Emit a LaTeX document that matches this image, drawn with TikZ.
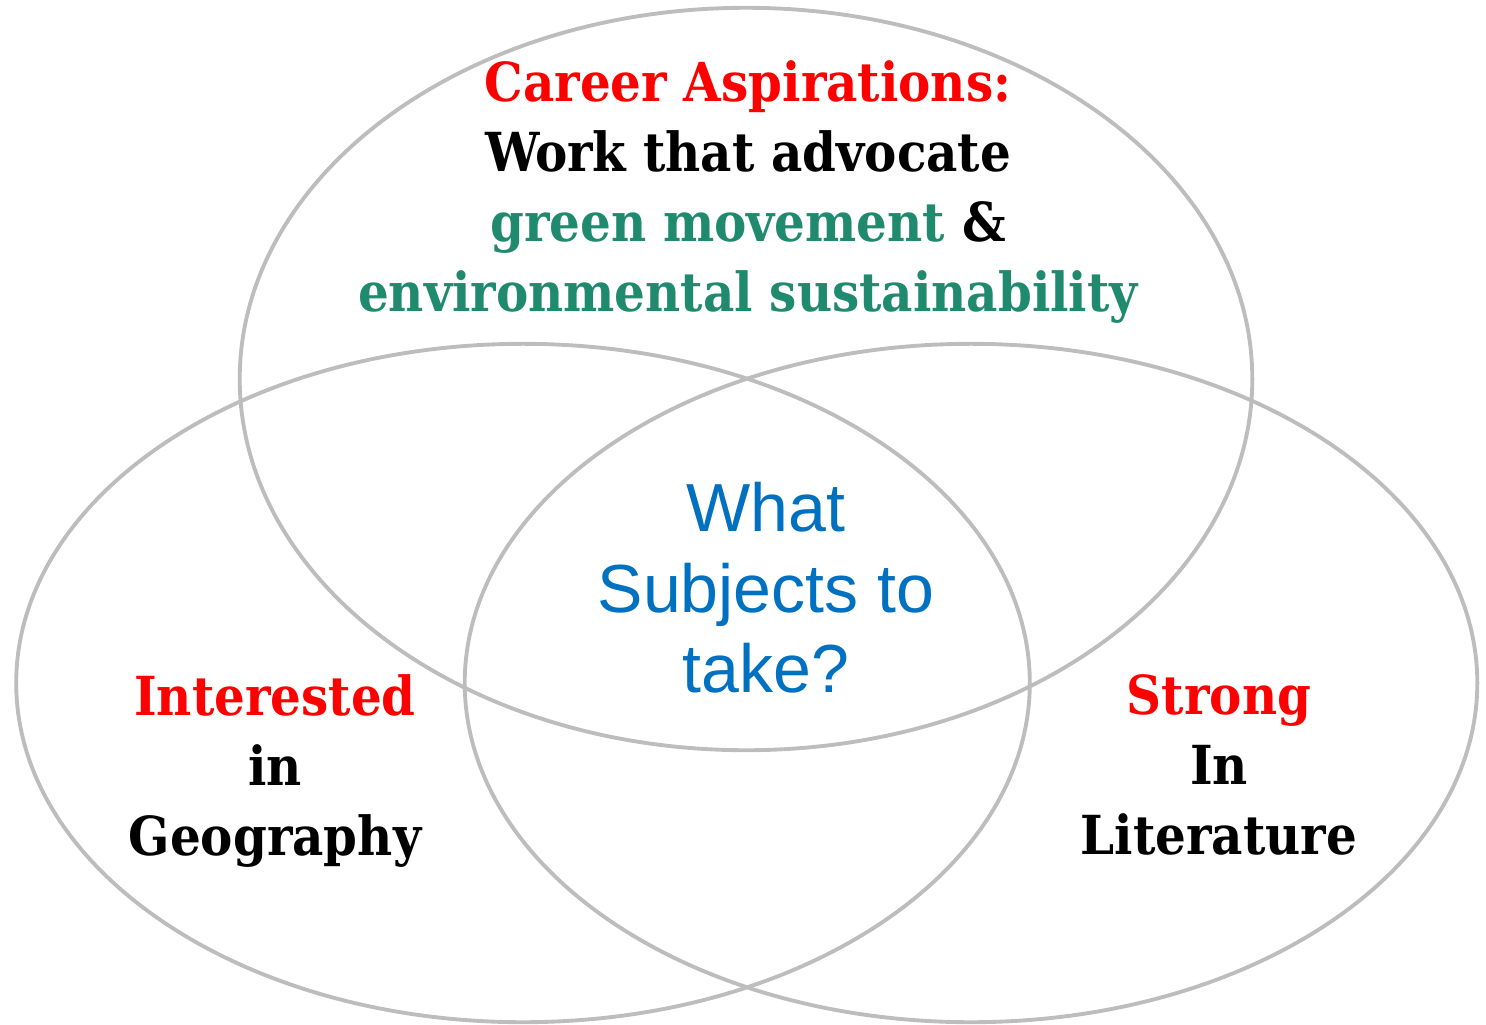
\documentclass[tikz,border=0pt]{standalone}
\usepackage{fontspec}
\setmainfont{DejaVu Serif Condensed}
\setsansfont{Liberation Sans}
\usepackage{tikz}
\usetikzlibrary{positioning}
\definecolor{ringgray}{HTML}{BDBDBD}
\definecolor{careerred}{HTML}{FF0000}
\definecolor{greenword}{HTML}{1F8A6E}
\definecolor{askblue}{HTML}{0070C0}
\tikzstyle{ring}      = [draw=ringgray, line width=1.1pt]
\tikzstyle{wordbold}  = [align=center, inner sep=0pt, font=\bfseries\fontsize{15.3}{19.9}\selectfont]
\tikzstyle{wordask}   = [align=center, inner sep=0pt, text=askblue, font=\sffamily\fontsize{19.35}{22.9}\selectfont]

\begin{document}
\begin{tikzpicture}[x=0.01cm, y=-0.01cm]
            \useasboundingbox (0,0) rectangle (1486,1024);
            %Centres of the three rings
            \coordinate (ring_top)   at (746,379);
            \coordinate (ring_left)  at (523,683);
            \coordinate (ring_right) at (971,683);
            %Draw the rings
            \draw [ring] (ring_top)   ellipse [x radius=5.06cm, y radius=3.71cm];
            \draw [ring] (ring_left)  ellipse [x radius=5.065cm, y radius=3.39cm];
            \draw [ring] (ring_right) ellipse [x radius=5.06cm, y radius=3.39cm];
            %Text in the rings
            \node (career)   [wordbold] at (748,192) {\textcolor{careerred}{Career Aspirations:}\\ Work that advocate\\ \textcolor{greenword}{green movement} \&\\ \textcolor{greenword}{environmental sustainability}};
            \node (interest) [wordbold] at (275,771) {\textcolor{careerred}{Interested}\\ in\\ Geography};
            \node (strong)   [wordbold] at (1219,765) {\textcolor{careerred}{Strong}\\ In\\ Literature};
            \node (subjects) [wordask]  at (766,588) {What\\ Subjects to\\ take?};
\end{tikzpicture}
\end{document}
